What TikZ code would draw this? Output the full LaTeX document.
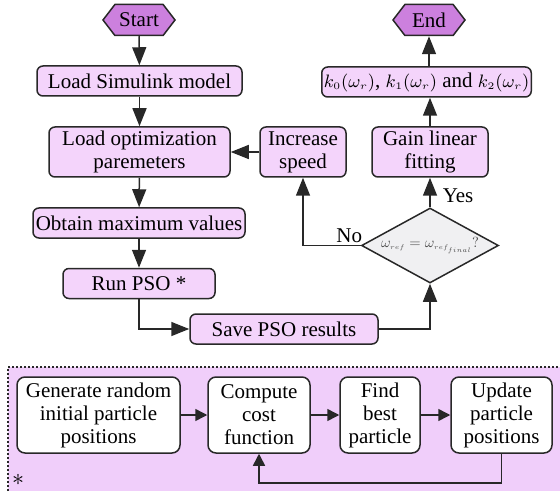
\documentclass[tikz,border=0pt]{standalone}
\usepackage{fontspec}
\usepackage{graphicx}
\setmainfont{LiberationSerif}[Extension=.ttf, UprightFont=*-Regular, BoldFont=*-Bold, ItalicFont=*-Italic]
\usetikzlibrary{shapes.geometric, shapes.symbols, arrows.meta}
\definecolor{termpurple}{RGB}{204,128,222}
\definecolor{boxpink}{RGB}{244,212,251}
\definecolor{panelpink}{RGB}{240,206,250}
\definecolor{testgray}{RGB}{240,240,242}
\definecolor{edgegray}{RGB}{40,40,40}
\newcommand{\kgain}[1]{{\fontsize{9.5}{11}\selectfont$k_{\scriptscriptstyle #1}(\omega_{\scriptscriptstyle r})$}}

\begin{document}
\begin{tikzpicture}[x=0.5pt, y=-0.5pt,
  font=\rmfamily\fontsize{10.5}{11.5}\selectfont,
  flowbox/.style={draw=edgegray, line width=0.75pt, rounded corners=3pt, fill=boxpink, align=center, inner sep=1pt, minimum height=15pt},
  termbox/.style={draw=edgegray, line width=0.75pt, shape=signal, signal to=west and east, signal pointer angle=105, fill=termpurple, minimum width=36pt, minimum height=15.5pt, inner sep=1pt},
  testbox/.style={draw=edgegray, line width=0.75pt, diamond, fill=testgray, aspect=1.8, inner sep=-4pt, minimum width=68.5pt, minimum height=37.5pt, text=black!70},
  psobox/.style={draw=edgegray, line width=0.75pt, rounded corners=4pt, fill=white, align=center, inner sep=1pt, minimum height=38pt},
  flow/.style={-{Triangle[length=9pt,width=7pt]}, line width=0.75pt, draw=edgegray},
  psoflow/.style={-{Triangle[length=6pt,width=6pt]}, line width=0.75pt, draw=edgegray}
]
\useasboundingbox (0,0) rectangle (560,491);

% PSO panel
\fill[panelpink] (8,367) rectangle (560,491);
\draw[edgegray, line width=0.8pt, dash pattern=on 1pt off 1pt] (8,491) -- (8,367) -- (560,367);

% main flow
\node[termbox] (start) at (139,20) {Start};
\node[flowbox, minimum width=102.5pt] (simload) at (139.5,81) {Load Simulink model};
\node[flowbox, minimum width=90.5pt, minimum height=25pt] (optload) at (139.5,152) {Load optimization\\paremeters};
\node[flowbox, minimum width=106pt] (maxval) at (139,223) {Obtain maximum values};
\node[flowbox, minimum width=76pt] (runpso) at (139,283.5) {Run PSO *};
\node[flowbox, minimum width=94pt] (savepso) at (284,329) {Save PSO results};
\node[testbox] (check) at (430,245.5) {\resizebox{49pt}{!}{$\omega_{\scriptscriptstyle ref}=\omega_{\scriptscriptstyle ref_{final}}?$}};
\node[flowbox, minimum width=43pt, minimum height=25pt] (incspeed) at (303,152) {Increase\\speed};
\node[flowbox, minimum width=58pt, minimum height=25pt] (fitgain) at (430,152) {Gain linear\\fitting};
\node[flowbox, minimum width=103.5pt] (kgains) at (426.5,82) {\kgain{0},\ \kgain{1} and \kgain{2}};
\node[termbox] (stop) at (429,20) {End};

\draw[flow] (start) -- (simload);
\draw[flow] (simload) -- (optload);
\draw[flow] (optload) -- (maxval);
\draw[flow] (maxval) -- (runpso);
\draw[flow] (runpso.south) |- (savepso.west);
\draw[flow] (savepso.east) -| (check.south);
\draw[flow] (check.west) -| node[pos=0.1, above, inner sep=1pt] {No} (incspeed.south);
\draw[flow] (check.north) -- node[pos=0.4, right, inner sep=1pt, xshift=5pt] {Yes} (fitgain.south);
\draw[flow] (incspeed.west) -- (optload.east);
\draw[flow] (fitgain.north) -- (fitgain.north |- kgains.south);
\draw[flow] (stop |- kgains.north) -- (stop.south);

% PSO steps
\node[psobox, minimum width=81.5pt] (genpos) at (98.5,415) {Generate random\\initial particle\\positions};
\node[psobox, minimum width=51pt] (costfn) at (259,415) {Compute\\cost\\function};
\node[psobox, minimum width=40pt] (bestp) at (380,415) {Find\\best\\particle};
\node[psobox, minimum width=50.5pt] (updpos) at (501.5,415) {Update\\particle\\positions};
\node (psonote) at (18,480) {\large$\ast$};
\coordinate (loopturn) at (501.5,483);

\draw[psoflow] (genpos) -- (costfn);
\draw[psoflow] (costfn) -- (bestp);
\draw[psoflow] (bestp) -- (updpos);
\draw[psoflow] (updpos.south) -- (loopturn) -| (costfn.south);

\end{tikzpicture}
\end{document}
